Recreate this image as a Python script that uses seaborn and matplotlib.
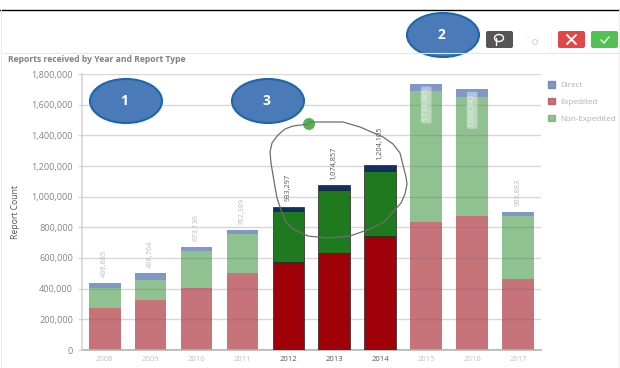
import numpy as np
import seaborn as sns
import matplotlib.pyplot as plt
from matplotlib.patches import Ellipse, FancyBboxPatch, Patch

anios = ['2008', '2009', '2010', '2011', '2012', '2013', '2014', '2015', '2016', '2017']
expedited = [272000, 327000, 407000, 499000, 573000, 632000, 745000, 837000, 871000, 462000]
non_expedited = [135000, 128000, 240000, 257000, 331000, 414000, 425000, 851000, 777000, 414000]
direct = [32000, 44000, 26000, 26000, 29000, 29000, 34000, 46000, 51000, 26000]
etiquetas_total = ['438,885', '498,764', '673,136', '782,389', '933,297', '1,074,857', '1,204,105',
                   '1,733,885', '1,698,343', '900,883']
destacados = ['2012', '2013', '2014']
etiquetas_dentro = ['2015', '2016']

# colores: (normal, destacado)
colores = {
    'Expedited': ('#b85058', '#a00008'),
    'Non-Expedited': ('#74b274', '#1f7a1f'),
    'Direct': ('#5f7eb8', '#12305f'),
}
gris_texto = '#858585'

sns.set_theme(style='white')
plt.rcParams['font.family'] = ['Open Sans', 'DejaVu Sans']

fig = plt.figure(figsize=(6.2, 3.68), dpi=100)
ax = fig.add_axes([81.7 / 620, 1 - 350 / 368, 459.3 / 620, 276 / 368])


def apilar(ax, valores, base, nombre):
    n_antes = len(ax.patches)
    sns.barplot(x=anios, y=valores, bottom=base, color=colores[nombre][0], width=0.69,
                saturation=1, order=anios, ax=ax)
    for anio, barra in zip(anios, ax.patches[n_antes:]):
        if anio in destacados:
            barra.set_facecolor(colores[nombre][1])
            barra.set_edgecolor('#222222')
            barra.set_linewidth(0.5)
            barra.set_zorder(3)  # la rejilla no se ve encima de estas
        else:
            barra.set_alpha(0.8)
            barra.set_linewidth(0)


base_non = np.array(expedited)
base_dir = base_non + np.array(non_expedited)
tope = base_dir + np.array(direct)
apilar(ax, expedited, 0, 'Expedited')
apilar(ax, non_expedited, base_non, 'Non-Expedited')
apilar(ax, direct, base_dir, 'Direct')

ax.set_xlim(-0.5, 9.5)
ax.set_ylim(0, 1800000)
ax.set_yticks(np.arange(0, 1800001, 200000))
ax.set_yticklabels([f'{v:,}' for v in range(0, 1800001, 200000)], fontsize=6.6, color=gris_texto)
ax.tick_params(axis='y', length=3, width=1, color='#d8d8d8', pad=3.2, left=True)
ax.tick_params(axis='x', length=0, pad=4)
ax.set_axisbelow(False)
ax.grid(axis='y', color='#707070', alpha=0.28, linewidth=1)
ax.set_xlabel('')
ax.set_ylabel('Report Count', fontsize=6.2, color='#555555')
ax.yaxis.set_label_coords(-61.7 / 459.3, 0.5)
for lado in ['top', 'right']:
    ax.spines[lado].set_visible(False)
ax.spines['left'].set_color('#d8d8d8')
ax.spines['bottom'].set_color('#b8b8b8')

for etiqueta in ax.get_xticklabels():
    destacado = etiqueta.get_text() in destacados
    etiqueta.set_fontsize(5.6)
    etiqueta.set_color('#555555' if destacado else '#c0c0c0')

# etiquetas de total
for i, (anio, texto) in enumerate(zip(anios, etiquetas_total)):
    if anio in etiquetas_dentro:
        ax.annotate(texto, (i, tope[i]), xytext=(0, -3), textcoords='offset points', rotation=90,
                    ha='center', va='top', fontsize=5.3, color='#e8f0e8',
                    bbox=dict(boxstyle='round,pad=0.25', fc='#ffffff', ec='none', alpha=0.4))
    else:
        color = '#555555' if anio in destacados else '#bdbdbd'
        ax.annotate(texto, (i, tope[i]), xytext=(0, 4), textcoords='offset points', rotation=90,
                    ha='center', va='bottom', fontsize=5.3, color=color)

fig.legend(handles=[Patch(color=colores[n][0], alpha=0.8, label=n) for n in ['Direct', 'Expedited', 'Non-Expedited']],
           loc='upper left', bbox_to_anchor=(546 / 620, 1 - 79 / 368), frameon=False, fontsize=5.8,
           labelcolor='#b0b0b0', handlelength=0.8, handleheight=0.8, handletextpad=0.7, labelspacing=1.12,
           borderpad=0.3, borderaxespad=0)

fig.text(8 / 620, 1 - 60 / 368, 'Reports received by Year and Report Type', fontsize=6.25, fontweight='bold',
         color='#808080', va='center')

# capa de anotaciones en pixeles de la imagen
capa = fig.add_axes([0, 0, 1, 1], zorder=5)
capa.set_xlim(0, 620)
capa.set_ylim(368, 0)
capa.axis('off')
capa.patch.set_alpha(0)

capa.plot([0, 620], [9.5, 9.5], color='black', lw=1)
capa.plot([2, 620], [53, 53], color='#e6e6e6', lw=0.8)
capa.plot([1, 1], [10, 368], color='#eeeeee', lw=0.8)
capa.plot([619, 619], [10, 368], color='#eeeeee', lw=0.8)

for cx, cy, num in [(126, 101, '1'), (268, 101, '3'), (443, 35, '2')]:
    capa.add_patch(Ellipse((cx, cy), 72, 44, fc='#4a7ab8', ec='#1c66ad', lw=1.5))
    capa.text(cx - 2, cy, num, color='white', fontsize=10, fontweight='bold', ha='center', va='center')

# circulo a mano alzada
trazo_x = [309, 293, 285, 278, 272, 270, 271, 273, 275, 277, 281, 286, 293, 308, 327, 350, 370, 384, 393, 401,
           405, 407, 406, 400, 393, 383, 360, 343, 325, 309]
trazo_y = [124, 126, 129, 135, 143, 152, 163, 175, 187, 198, 210, 222, 229, 236, 238, 236, 229, 222, 212, 203,
           194, 184, 177, 153, 144, 137, 127, 122, 122, 122]
capa.plot(trazo_x, trazo_y, color='#6e6e6e', lw=0.9, solid_joinstyle='round')
capa.add_patch(Ellipse((309, 124), 12, 12, fc='#4cb84c', ec='none'))

# botones de la barra
for x0, ancho, color in [(486, 27, '#555555'), (558, 27, '#e04848'), (591, 27, '#52c052')]:
    capa.add_patch(FancyBboxPatch((x0 + 1, 32), ancho - 2, 15, boxstyle='round,pad=1,rounding_size=2',
                                  fc=color, ec='none'))
capa.add_patch(Ellipse((499, 38), 9, 7, fc='none', ec='white', lw=1))
capa.plot([496, 496], [38, 45], color='white', lw=1)
capa.plot([567, 576], [35, 44], color='white', lw=1.4)
capa.plot([567, 576], [44, 35], color='white', lw=1.4)
capa.plot([601, 604, 609], [40, 43, 37], color='#d8f2d8', lw=1.2)
capa.add_patch(Ellipse((535, 42), 5, 5, fc='none', ec='#d5d5d5', lw=0.8))
capa.plot([527, 530], [37, 37], color='#dddddd', lw=0.8, ls=':')
capa.plot([551, 551], [32, 48], color='#eeeeee', lw=0.8)

fig.savefig('out.png', dpi=100)
